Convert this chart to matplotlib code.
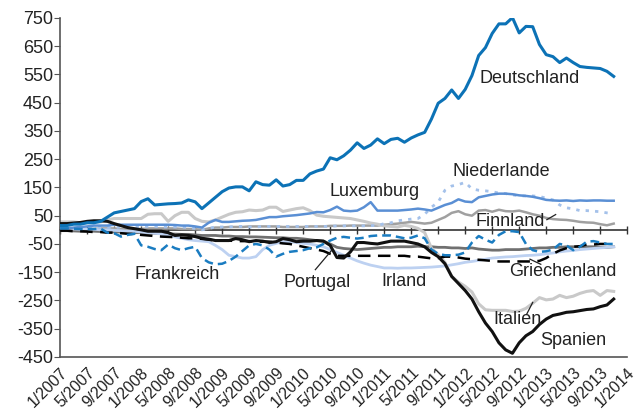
import matplotlib
matplotlib.use("Agg")
import matplotlib.pyplot as plt

plt.rcParams['font.family'] = ['Liberation Sans', 'DejaVu Sans']
plt.rcParams['axes.unicode_minus'] = False

# monthly TARGET2 balances (bn EUR), 1/2007 .. 11/2013
deutschland = [15, 15, 20, 20, 25, 25, 30, 45, 60, 65, 70, 75,
               100, 110, 88, 90, 92, 93, 95, 106, 99, 75, 95, 115,
               135, 148, 152, 152, 138, 170, 160, 158, 177, 155, 160, 175,
               175, 198, 208, 215, 255, 248, 262, 282, 308, 288, 300, 322,
               305, 320, 324, 310, 325, 336, 345, 392, 448, 465, 495, 465,
               497, 546, 617, 645, 695, 729, 729, 751, 697, 720, 719, 656,
               620, 613, 592, 608, 592, 578, 575, 573, 571, 561, 543]
luxemburg = [5, 5, 8, 10, 12, 15, 15, 15, 18, 18, 18, 18,
             18, 18, 18, 18, 18, 17, 15, 15, 12, 8, 25, 35,
             28, 28, 30, 32, 33, 35, 40, 45, 45, 48, 50, 52,
             55, 58, 63, 62, 70, 82, 68, 66, 68, 80, 98, 68,
             68, 68, 68, 70, 72, 75, 72, 68, 78, 88, 95, 108,
             100, 98, 115, 120, 125, 128, 128, 126, 122, 120, 117, 112,
             106, 104, 103, 104, 102, 104, 103, 104, 104, 103, 103]
niederlande = [5, 5, 5, 8, 8, 10, 10, 8, 8, 10, 10, 10,
               12, 12, 12, 10, 10, 10, 10, 8, 5, 0, 5, 10,
               10, 10, 12, 12, 10, 10, 12, 12, 12, 12, 12, 12,
               12, 12, 12, 12, 12, 14, 14, 14, 14, 14, 15, 15,
               22, 25, 32, 35, 38, 40, 55, 80, 98, 140, 155, 160,
               168, 145, 140, 138, 135, 130, 128, 124, 120, 120, 120, 118,
               112, 106, 88, 78, 74, 68, 68, 66, 64, 60, 57]
finnland = [0, 0, 2, 2, 3, 3, 5, 5, 5, 3, 3, 3,
            3, 5, 5, 5, 5, 5, 3, 3, 2, 0, 5, 8,
            8, 10, 10, 10, 12, 12, 12, 12, 12, 10, 10, 10,
            10, 12, 12, 12, 14, 14, 14, 15, 15, 15, 15, 15,
            18, 20, 22, 25, 28, 25, 22, 25, 35, 45, 60, 66,
            55, 50, 68, 70, 64, 71, 66, 65, 68, 62, 55, 50,
            42, 38, 36, 35, 32, 28, 26, 25, 20, 16, 22]
frankreich = [5, 5, 4, 3, 3, 3, 4, -10, -12, -24, -18, -14,
              -55, -60, -68, -72, -52, -65, -72, -65, -60, -100, -115, -122,
              -120, -110, -95, -75, -55, -50, -55, -70, -95, -85, -78, -75,
              -72, -65, -62, -50, -38, -28, -25, -28, -31, -28, -22, -20,
              -20, -20, -25, -30, -28, -20, -30, -70, -85, -90, -90, -88,
              -80, -45, -22, -35, -45, -18, -5, -5, -8, -50, -72, -78,
              -76, -70, -50, -55, -72, -60, -42, -40, -45, -50, -50]
portugal = [-3, -3, -4, -5, -5, -5, -6, -6, -7, -8, -8, -10,
            -10, -12, -12, -14, -14, -15, -16, -16, -18, -20, -20, -20,
            -22, -22, -24, -24, -25, -25, -26, -27, -28, -28, -30, -30,
            -32, -35, -38, -40, -50, -62, -66, -68, -70, -68, -66, -64,
            -62, -62, -60, -60, -60, -58, -60, -60, -62, -62, -64, -64,
            -66, -64, -68, -70, -72, -72, -70, -70, -70, -68, -66, -64,
            -64, -62, -62, -60, -60, -60, -60, -60, -62, -62, -60]
irland = [3, 3, 3, 2, 2, 2, 0, 0, -2, -3, -5, -5,
          -8, -10, -12, -15, -20, -25, -30, -35, -38, -40, -42, -55,
          -70, -90, -95, -100, -100, -95, -70, -55, -48, -42, -42, -45,
          -48, -50, -55, -60, -70, -80, -90, -100, -110, -118, -125, -130,
          -135, -135, -136, -135, -135, -134, -133, -132, -130, -128, -124, -120,
          -115, -112, -108, -104, -100, -98, -96, -95, -93, -91, -90, -88,
          -85, -82, -78, -75, -73, -70, -68, -66, -64, -62, -60]
griechenland = [-3, -3, -5, -5, -6, -8, -8, -10, -10, -12, -14, -15,
                -18, -20, -22, -24, -25, -26, -28, -30, -30, -32, -35, -38,
                -38, -38, -40, -40, -40, -42, -42, -42, -45, -48, -50, -55,
                -60, -65, -70, -75, -85, -92, -92, -92, -92, -92, -92, -92,
                -92, -92, -92, -92, -95, -95, -98, -101, -100, -95, -95, -98,
                -102, -104, -106, -108, -110, -112, -112, -112, -112, -112, -112, -110,
                -100, -85, -73, -65, -60, -58, -52, -52, -50, -50, -49]
italien = [28, 28, 28, 25, 25, 28, 28, 35, 40, 40, 40, 40,
           40, 55, 57, 57, 30, 50, 62, 62, 40, 30, 28, 35,
           45, 55, 62, 64, 70, 68, 70, 80, 80, 65, 70, 75,
           78, 68, 52, 48, 46, 44, 42, 40, 35, 30, 24, 20,
           14, 12, 10, 16, 12, 5, -10, -65, -88, -115, -165, -185,
           -200, -220, -262, -283, -285, -285, -285, -289, -288, -278, -260, -240,
           -248, -245, -232, -240, -235, -225, -218, -215, -232, -215, -218]
spanien = [22, 22, 24, 26, 30, 32, 32, 30, 22, 15, 8, 4,
           0, -5, -5, -5, -10, -20, -18, -20, -24, -30, -33, -38,
           -38, -38, -31, -35, -42, -38, -40, -45, -42, -31, -35, -42,
           -40, -40, -38, -40, -55, -98, -100, -78, -45, -45, -48, -50,
           -45, -40, -40, -40, -45, -50, -60, -80, -95, -120, -165, -190,
           -215, -245, -290, -330, -360, -400, -425, -437, -400, -375, -360, -335,
           -316, -303, -298, -292, -290, -286, -282, -280, -272, -266, -245]

months = list(range(len(deutschland)))
tick_months = list(range(0, 85, 4))
tick_labels = [f"{(m % 12) + 1}/{2007 + m // 12}" for m in tick_months]
y_ticks = list(range(-450, 751, 100))

fig, ax = plt.subplots(figsize=(6.4, 4.17), dpi=100)
fig.subplots_adjust(left=0.094, right=0.98, top=0.957, bottom=0.144)

ax.plot(months, finnland, color='#a0a0a0', lw=1.8, zorder=2)
ax.plot(months, portugal, color='#707070', lw=2.0, zorder=2)
ax.plot(months, irland, color='#bdd1f1', lw=2.0, zorder=2)
ax.plot(months, italien, color='#c9c9c9', lw=2.2, zorder=2)
ax.plot(months, niederlande, color='#a4c1ea', lw=2.0, ls=(0, (1.2, 2.2)), zorder=3)
ax.plot(months, luxemburg, color='#5a8fd4', lw=1.8, zorder=3)
ax.plot(months, griechenland, color='black', lw=1.8, ls=(0, (5, 3)), zorder=3)
ax.plot(months, frankreich, color='#1a7cc1', lw=1.8, ls=(0, (3.5, 2)), zorder=3)
ax.plot(months, spanien, color='#111111', lw=2.2, zorder=4)
ax.plot(months, deutschland, color='#0c72b6', lw=2.2, zorder=5)

ax.set_xlim(0, 84)
ax.set_ylim(-450, 750)
ax.set_yticks(y_ticks)
ax.set_yticklabels([str(v) for v in y_ticks])
ax.set_xticks(tick_months)
ax.set_xticklabels(tick_labels, rotation=45, ha='right', rotation_mode='anchor')

for s in ['top', 'right']:
    ax.spines[s].set_visible(False)
for s in ['left', 'bottom']:
    ax.spines[s].set_color('#555555')
    ax.spines[s].set_linewidth(1.2)
ax.tick_params(axis='y', length=4, color='#555555', labelsize=13, labelcolor='#222222', pad=1)
ax.tick_params(axis='x', length=0, labelsize=11.5, labelcolor='#222222', pad=6)

# zero line with month ticks
zero_pos = (0 - ax.get_ylim()[0]) / (ax.get_ylim()[1] - ax.get_ylim()[0])
zx = ax.secondary_xaxis(zero_pos)
zx.set_xticks(tick_months)
zx.set_xticklabels([])
zx.tick_params(direction='inout', length=6, color='#333333', width=1)
zx.spines['bottom'].set_color('#333333')
zx.spines['bottom'].set_linewidth(1.2)

fs = 13
ax.text(69.6, 536, 'Deutschland', fontsize=fs, ha='center', va='center', color='#222222')
ax.text(65.4, 205, 'Niederlande', fontsize=fs, ha='center', va='center', color='#222222')
ax.text(46.6, 135, 'Luxemburg', fontsize=fs, ha='center', va='center', color='#222222')
ax.text(66.6, 29, 'Finnland', fontsize=fs, ha='center', va='center', color='#222222', zorder=6)
ax.text(17.4, -157, 'Frankreich', fontsize=fs, ha='center', va='center', color='#222222')
ax.text(38.1, -185, 'Portugal', fontsize=fs, ha='center', va='center', color='#222222')
ax.text(51.0, -182, 'Irland', fontsize=fs, ha='center', va='center', color='#222222')
ax.text(74.5, -147, 'Griechenland', fontsize=fs, ha='center', va='center', color='#222222')
ax.text(67.7, -319, 'Italien', fontsize=fs, ha='center', va='center', color='#222222', zorder=6)
ax.text(76.0, -393, 'Spanien', fontsize=fs, ha='center', va='center', color='#222222')

# leader lines
lk = dict(color='#222222', lw=0.9, zorder=6)
ax.plot([37.8, 40.2], [-141, -73], **lk)
ax.plot([72.1, 73.4], [36, 54], **lk)
ax.plot([71.2, 69.6], [-122, -104], **lk)
ax.plot([69.1, 70.0], [-299, -257], **lk)

fig.savefig('out.png', dpi=100)
